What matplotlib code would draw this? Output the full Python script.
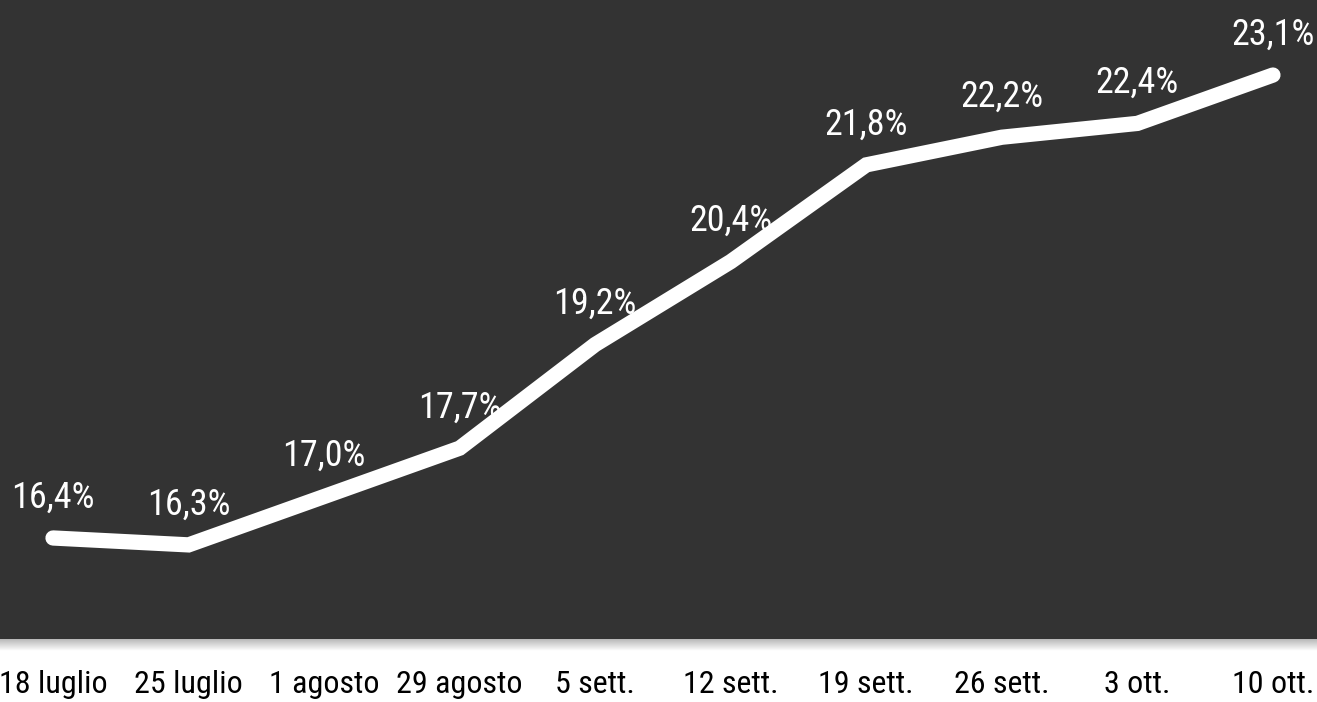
import numpy as np
import matplotlib
matplotlib.use('Agg')
import matplotlib.pyplot as plt
from matplotlib import font_manager
from matplotlib.transforms import blended_transform_factory

# Data
dates = ['18 luglio', '25 luglio', '1 agosto', '29 agosto', '5 sett.',
         '12 sett.', '19 sett.', '26 sett.', '3 ott.', '10 ott.']
share = [16.4, 16.3, 17.0, 17.7, 19.2, 20.4, 21.8, 22.2, 22.4, 23.1]

# pick a narrow font if one is around
installed = {f.name for f in font_manager.fontManager.ttflist}
font = 'DejaVu Sans'
for name in ['Liberation Sans Narrow', 'Roboto Condensed', 'Open Sans Condensed',
             'DejaVu Sans Condensed']:
    if name in installed:
        font = name
        break
plt.rcParams['font.family'] = [font, 'DejaVu Sans']

W, H = 1317, 702
fig = plt.figure(figsize=(W / 100, H / 100), dpi=100)
fig.patch.set_facecolor('white')

panel_bottom = 639
ax = fig.add_axes([0, 1 - panel_bottom / H, 1, panel_bottom / H])
ax.set_facecolor('#333333')
for s in ax.spines.values():
    s.set_visible(False)
ax.set_xticks([])
ax.set_yticks([])

x = np.arange(len(dates))
ax.plot(x, share, color='white', lw=11, solid_capstyle='round',
        solid_joinstyle='miter')
ax.set_xlim(-0.391, 9.325)
ax.set_ylim(14.938, 24.186)

for xi, v in zip(x, share):
    ax.annotate(f'{v:.1f}%'.replace('.', ','), (xi, v), xytext=(0, 22),
                textcoords='offset points', ha='center', va='baseline',
                color='white', fontsize=26)

# little shadow under the dark panel
sh = fig.add_axes([0, 1 - (panel_bottom + 12) / H, 1, 12 / H])
grad = np.linspace(0.72, 1.0, 50).reshape(-1, 1)
sh.imshow(grad, aspect='auto', cmap='gray', vmin=0, vmax=1,
          extent=[0, 1, 0, 1])
sh.axis('off')

# date labels along the bottom
tr = blended_transform_factory(ax.transData, fig.transFigure)
for xi, d in zip(x, dates):
    ax.text(xi, 9 / H, d, transform=tr, ha='center', va='baseline',
            color='black', fontsize=23, clip_on=False)

plt.savefig('out.png', dpi=100, facecolor=fig.get_facecolor())
